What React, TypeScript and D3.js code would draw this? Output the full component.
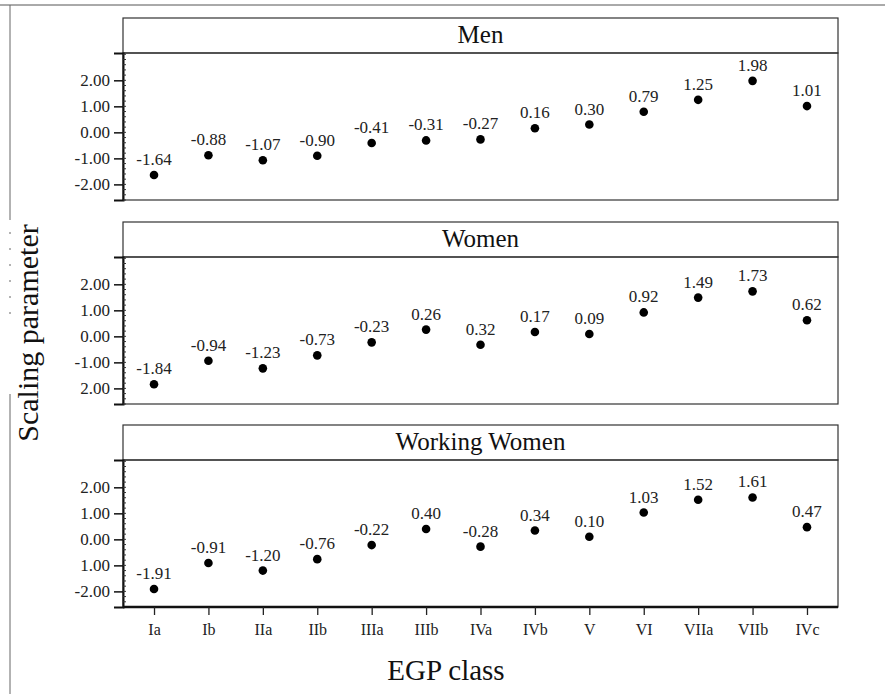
import React, { useEffect, useRef } from 'react';
import * as d3 from 'd3';

const classes = ['Ia', 'Ib', 'IIa', 'IIb', 'IIIa', 'IIIb', 'IVa', 'IVb', 'V', 'VI', 'VIIa', 'VIIb', 'IVc'];

const menValues = [-1.64, -0.88, -1.07, -0.9, -0.41, -0.31, -0.27, 0.16, 0.3, 0.79, 1.25, 1.98, 1.01];
const womenValues = [-1.84, -0.94, -1.23, -0.73, -0.23, 0.26, -0.32, 0.17, 0.09, 0.92, 1.49, 1.73, 0.62];
const workingWomenValues = [-1.91, -0.91, -1.2, -0.76, -0.22, 0.4, -0.28, 0.34, 0.1, 1.03, 1.52, 1.61, 0.47];

// printed labels as they read in the scan (one minus sign lost in Women)
const womenValueLabels = ['-1.84', '-0.94', '-1.23', '-0.73', '-0.23', '0.26', '0.32', '0.17', '0.09', '0.92', '1.49', '1.73', '0.62'];

const tickValues = [2, 1, 0, -1, -2];
const menTickLabels = ['2.00', '1.00', '0.00', '-1.00', '-2.00'];
const womenTickLabels = ['2.00', '1.00', '0.00', '-1.00', '2.00'];
const workingWomenTickLabels = ['2.00', '1.00', '0.00', '1.00', '-2.00'];

const panelTitles = ['Men', 'Women', 'Working Women'];

// plain hyphen for the minus, like the printed figure
const fmt = (v: number) => d3.format('.2f')(v).replace('\u2212', '-');

const panels = [
  { title: panelTitles[0], values: menValues, labels: menValues.map(fmt), ticks: menTickLabels },
  { title: panelTitles[1], values: womenValues, labels: womenValueLabels, ticks: womenTickLabels },
  { title: panelTitles[2], values: workingWomenValues, labels: workingWomenValues.map(fmt), ticks: workingWomenTickLabels },
];

const FONT = "'Liberation Serif', 'Times New Roman', serif";

export default function App() {
  const svgRef = useRef<SVGSVGElement>(null);

  useEffect(() => {
    if (!svgRef.current) return;
    const svg = d3.select(svgRef.current);
    svg.selectAll('*').remove();

    const width = 885;
    const height = 694;
    const plotLeft = 123;
    const plotRight = 838;
    const headerH = 35;
    const plotH = 147;
    const panelTops = [18, 222, 425];

    svg.append('rect').attr('width', width).attr('height', height).attr('fill', '#fff');

    // scan border remnants
    svg.append('line')
      .attr('x1', 0).attr('x2', width).attr('y1', 5).attr('y2', 5)
      .attr('stroke', '#555').attr('stroke-width', 1);
    svg.append('line')
      .attr('x1', 10).attr('x2', 10).attr('y1', 5).attr('y2', height)
      .attr('stroke', '#666').attr('stroke-width', 1)
      .attr('stroke-dasharray', '215 12 2 14 2 14 2 14 2 14 2 14 2 80 420');

    const x = d3.scalePoint<string>()
      .domain(classes)
      .range([plotLeft, plotRight])
      .padding(0.57);

    panels.forEach((p, pi) => {
      const top = panelTops[pi];
      const plotTop = top + headerH;
      const plotBottom = plotTop + plotH;

      const y = d3.scaleLinear().domain([-2.6, 3.05]).range([plotBottom, plotTop]);

      const g = svg.append('g');

      // header strip
      g.append('rect')
        .attr('x', plotLeft).attr('y', top)
        .attr('width', plotRight - plotLeft).attr('height', headerH)
        .attr('fill', '#fff').attr('stroke', '#333').attr('stroke-width', 1.2);
      g.append('text')
        .attr('x', (plotLeft + plotRight) / 2)
        .attr('y', top + 25)
        .attr('text-anchor', 'middle')
        .style('font-family', FONT)
        .style('font-size', '25px')
        .attr('fill', '#111')
        .text(p.title);

      // plot frame
      g.append('rect')
        .attr('x', plotLeft).attr('y', plotTop)
        .attr('width', plotRight - plotLeft).attr('height', plotH)
        .attr('fill', 'none').attr('stroke', '#333').attr('stroke-width', 1.2);

      // y axis
      const yAxis = d3.axisLeft(y)
        .tickValues(tickValues)
        .tickSize(9)
        .tickPadding(4)
        .tickFormat((d, i) => p.ticks[i]);
      const ya = g.append('g')
        .attr('transform', `translate(${plotLeft},0)`)
        .call(yAxis);
      ya.attr('font-family', null).attr('font-size', null);
      ya.select('.domain').attr('stroke', '#111').attr('stroke-width', 2);
      ya.selectAll('.tick line').attr('stroke', '#111').attr('stroke-width', 1.5);
      ya.selectAll('.tick text')
        .style('font-family', FONT)
        .style('font-size', '17px')
        .attr('fill', '#222');

      // minor ticks
      const minor = d3.range(-2.6, 3.05, 0.2);
      g.append('g').selectAll('line').data(minor).join('line')
        .attr('x1', plotLeft).attr('x2', plotLeft + 3)
        .attr('y1', d => y(d)).attr('y2', d => y(d))
        .attr('stroke', '#333').attr('stroke-width', 1);

      // points
      g.append('g').selectAll('circle')
        .data(p.values)
        .join('circle')
        .attr('cx', (d, i) => x(classes[i]) as number)
        .attr('cy', d => y(d))
        .attr('r', 4.3)
        .attr('fill', '#000');

      // value labels
      g.append('g').selectAll('text')
        .data(p.values)
        .join('text')
        .attr('x', (d, i) => x(classes[i]) as number)
        .attr('y', d => y(d) - 10)
        .attr('text-anchor', 'middle')
        .style('font-family', FONT)
        .style('font-size', '17px')
        .attr('fill', '#222')
        .text((d, i) => p.labels[i]);

      if (pi === panels.length - 1) {
        g.append('line')
          .attr('x1', plotLeft).attr('x2', plotRight)
          .attr('y1', plotBottom).attr('y2', plotBottom)
          .attr('stroke', '#111').attr('stroke-width', 2.5);
        const xAxis = d3.axisBottom(x).tickSize(8).tickPadding(9);
        const xa = g.append('g')
          .attr('transform', `translate(0,${plotBottom})`)
          .call(xAxis);
        xa.attr('font-family', null).attr('font-size', null);
        xa.select('.domain').remove();
        xa.selectAll('.tick line').attr('stroke', '#222').attr('stroke-width', 1.3);
        xa.selectAll('.tick text')
          .style('font-family', FONT)
          .style('font-size', '16px')
          .attr('fill', '#222');
      }
    });

    // axis titles
    svg.append('text')
      .attr('transform', `translate(38,${333}) rotate(-90)`)
      .attr('text-anchor', 'middle')
      .style('font-family', FONT)
      .style('font-size', '30px')
      .attr('fill', '#111')
      .text('Scaling parameter');

    svg.append('text')
      .attr('x', 446)
      .attr('y', 680)
      .attr('text-anchor', 'middle')
      .style('font-family', FONT)
      .style('font-size', '29px')
      .attr('fill', '#111')
      .text('EGP class');
  }, []);

  return (
    <svg
      ref={svgRef}
      width={885}
      height={694}
      viewBox="0 0 885 694"
      style={{ position: 'absolute', left: 0, top: 0, display: 'block', fontFamily: FONT }}
    />
  );
}
